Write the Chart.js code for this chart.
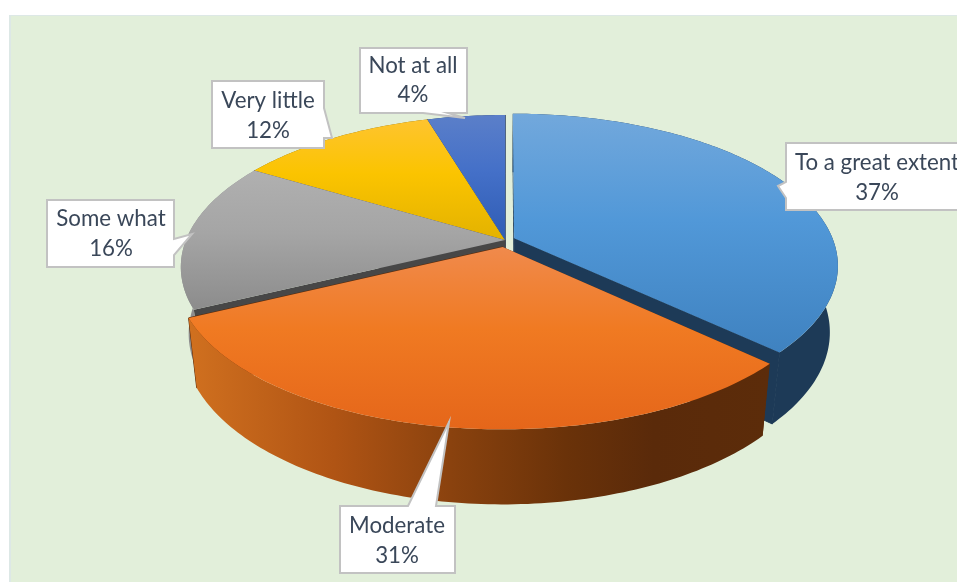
<!DOCTYPE html>
<html>
<head>
<meta charset="utf-8">
<title>Pie chart</title>
<script src="https://cdn.jsdelivr.net/npm/chart.js@4/dist/chart.umd.min.js"></script>
<style>
  html, body { margin: 0; padding: 0; background: #fff; overflow: hidden; }
  canvas { display: block; }
</style>
</head>
<body>
<canvas id="myChart" width="957" height="583"></canvas>
<script>
// Values
const categories = ["To a great extent", "Moderate", "Some what", "Very little", "Not at all"];
const sliceValues = [37.0, 30.8, 15.8, 11.8, 4.6];
const percentLabels = ["37%", "31%", "16%", "12%", "4%"];

// Pie look
const explode = [10, 15, 0, 0, 0];
const topColors = [
  ["#72a8dc", "#5198d8", "#3f82c0"],
  ["#f08a4c", "#f07a22", "#e5661a"],
  ["#b0b0b0", "#a5a5a5", "#8c8c8c"],
  ["#fec42f", "#fbc400", "#e3b200"],
  ["#5b7fc9", "#4470c8", "#2f5cb4"]
];
const wallColors = ["#1d3a57", "#5c2c0a", "#474747", "#7f6000", "#203864"];

// Perspective of the pie on the page
const view = { cx: 505, cy: 240, R: 319, k: 0.4616, p: 0.178, q: 0.024, depth: 67.4 };

// Callouts: box corners plus pointer, text centre and the y of both lines
const callouts = [
  { pts: [[786,143],[970,143],[970,210],[786,210],[786,198],[778,186],[786,182]], x: 877, y: [163, 193] },
  { pts: [[340,506],[408,506],[449,422],[436,506],[455,506],[455,573],[340,573]], x: 397, y: [526, 556] },
  { pts: [[47,200],[174,200],[174,239],[192,234],[174,255],[174,267],[47,267]], x: 111, y: [219, 249] },
  { pts: [[212,81],[324,81],[324,108],[332,138],[324,138],[324,148],[212,148]], x: 268, y: [101, 131] },
  { pts: [[360,48],[467,48],[467,113],[448,113],[465,118],[423,113],[360,113]], x: 413, y: [66, 95] }
];

// disk position (X right, Y back) and z (0 top, 1 bottom) to page position
function project(X, Y, z) {
  const w = 1 + view.p * Y / view.R + view.q * z;
  return [view.cx + X / w, view.cy + (-view.k * Y + view.depth * z) / w];
}

function rimPoint(angle, off, z) {
  return project(view.R * Math.cos(angle) + off[0], -view.R * Math.sin(angle) + off[1], z);
}

function fillPoly(ctx, pts, fill, edge) {
  ctx.beginPath();
  pts.forEach((pt, i) => i ? ctx.lineTo(pt[0], pt[1]) : ctx.moveTo(pt[0], pt[1]));
  ctx.closePath();
  ctx.fillStyle = fill;
  ctx.fill();
  // closes the hairline between the wall and the side next to it
  if (edge) {
    ctx.strokeStyle = fill;
    ctx.lineWidth = 1;
    ctx.stroke();
  }
}

function vGradient(ctx, y0, y1, cols) {
  const g = ctx.createLinearGradient(0, y0, 0, y1);
  g.addColorStop(0, cols[0]);
  g.addColorStop(0.45, cols[1]);
  g.addColorStop(1, cols[2]);
  return g;
}

function sideFill(ctx, i) {
  if (i === 1) {
    const g = ctx.createLinearGradient(189, 0, 770, 0);
    g.addColorStop(0, "#d0701f");
    g.addColorStop(0.25, "#b05414");
    g.addColorStop(0.45, "#8a420e");
    g.addColorStop(0.65, "#6a3209");
    g.addColorStop(0.8, "#5a2a0a");
    g.addColorStop(1, "#5c2c0a");
    return g;
  }
  if (i === 2) return "#8e8e8e";
  return wallColors[i];
}

function drawSlice(ctx, el, i, part) {
  const start = el.startAngle, end = el.endAngle, mid = (start + end) / 2;
  const off = [explode[i] * Math.cos(mid), -explode[i] * Math.sin(mid)];
  const steps = Math.ceil((end - start) / (Math.PI / 180));
  const top = [], bottom = [];
  for (let s = 0; s <= steps; s++) {
    const a = start + (end - start) * s / steps;
    top.push(rimPoint(a, off, 0));
    bottom.push(rimPoint(a, off, 1));
  }
  const apexTop = project(off[0], off[1], 0), apexBottom = project(off[0], off[1], 1);
  if (part === "sides") {
    fillPoly(ctx, [apexTop, top[0], bottom[0], apexBottom], wallColors[i]);
    fillPoly(ctx, [apexTop, top[steps], bottom[steps], apexBottom], wallColors[i], true);
    fillPoly(ctx, top.concat(bottom.slice().reverse()), sideFill(ctx, i));
  } else {
    const pts = [apexTop].concat(top);
    const ys = pts.map(pt => pt[1]);
    fillPoly(ctx, pts, vGradient(ctx, Math.min(...ys), Math.max(...ys), topColors[i]));
  }
}

const panelPlugin = {
  id: "panel",
  beforeDraw(chart) {
    const ctx = chart.ctx;
    ctx.fillStyle = "#ffffff";
    ctx.fillRect(0, 0, chart.width, chart.height);
    ctx.fillStyle = "#dde8e6";
    ctx.fillRect(9, 15, chart.width - 9, chart.height - 16);
    ctx.fillStyle = "#e2efda";
    ctx.fillRect(11, 16, chart.width - 11, chart.height - 17);
  }
};

const pie3dPlugin = {
  id: "pie3d",
  beforeDatasetsDraw(chart) {
    const ctx = chart.ctx, arcs = chart.getDatasetMeta(0).data;
    // back slices first, the exploded ones over them, orange in front
    [3, 4, 2, 0].forEach(i => drawSlice(ctx, arcs[i], i, "sides"));
    [3, 4, 2, 0].forEach(i => drawSlice(ctx, arcs[i], i, "top"));
    drawSlice(ctx, arcs[1], 1, "sides");
    drawSlice(ctx, arcs[1], 1, "top");
    return false;
  }
};

const calloutPlugin = {
  id: "callouts",
  afterDraw(chart) {
    const ctx = chart.ctx;
    callouts.forEach((c, i) => {
      ctx.beginPath();
      c.pts.forEach((pt, n) => n ? ctx.lineTo(pt[0], pt[1]) : ctx.moveTo(pt[0], pt[1]));
      ctx.closePath();
      ctx.fillStyle = "#ffffff";
      ctx.fill();
      ctx.lineWidth = 2;
      ctx.lineJoin = "miter";
      ctx.strokeStyle = "#c2c2c2";
      ctx.stroke();
      ctx.fillStyle = "#3a4759";
      ctx.font = "22.3px Lato";
      ctx.textAlign = "center";
      ctx.textBaseline = "middle";
      ctx.fillText(categories[i], c.x, c.y[0]);
      ctx.fillText(percentLabels[i], c.x, c.y[1]);
    });
  }
};

new Chart(document.getElementById("myChart"), {
  type: "pie",
  data: {
    labels: categories,
    datasets: [{ data: sliceValues, borderWidth: 0 }]
  },
  options: {
    responsive: false,
    animation: false,
    rotation: 0,
    plugins: { legend: { display: false }, tooltip: { enabled: false } }
  },
  plugins: [panelPlugin, pie3dPlugin, calloutPlugin]
});
</script>
</body>
</html>
